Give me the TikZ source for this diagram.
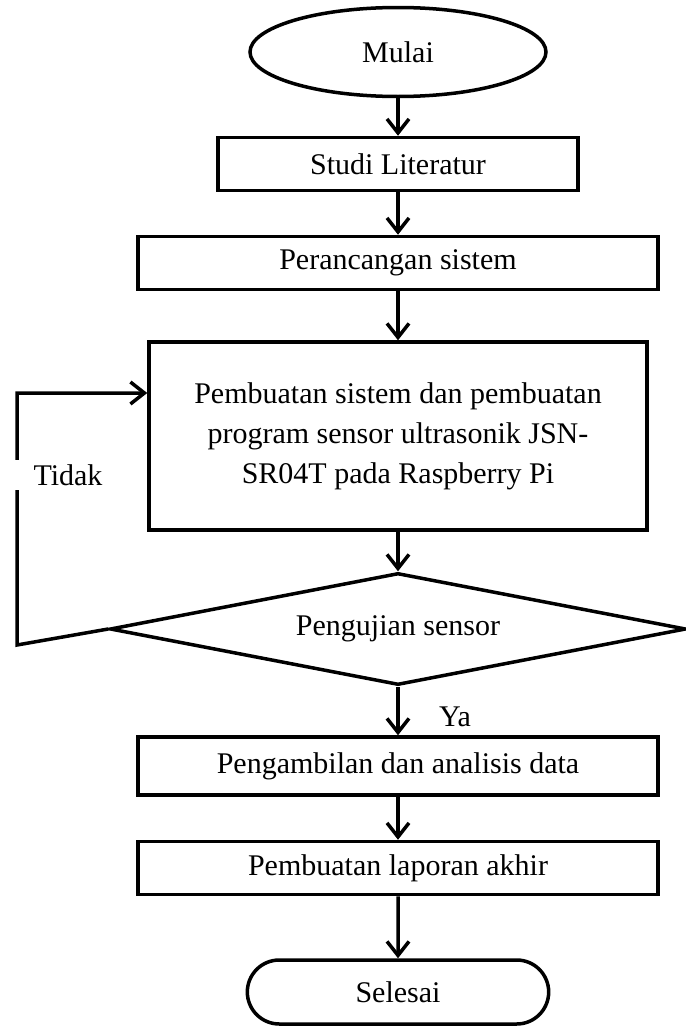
\documentclass[tikz,border=0pt]{standalone}
\usepackage{fontspec}
\setmainfont{Liberation Serif}
\usepackage{tikz}
\usetikzlibrary{arrows.meta,shapes.geometric,shapes.misc,positioning}

\begin{document}
\begin{tikzpicture}[>={Straight Barb[length=14bp,width=22bp]},line width=3.5bp,
	font=\fontsize{30bp}{40bp}\selectfont,
	proses/.style={draw,rectangle,minimum width=520bp,minimum height=53bp,inner sep=0pt},
	terminal/.style={draw,ellipse,minimum width=296bp,minimum height=89bp,inner sep=0pt},
	keputusan/.style={draw,diamond,aspect=5.2,minimum width=576bp,minimum height=112bp,inner sep=0pt}]
	\path[use as bounding box] (0bp,0bp) rectangle (686bp,-1030bp);

	\node (mulai) at (398bp,-52bp) [terminal] {Mulai};
	\node (studi) at (398bp,-164bp) [proses, minimum width=360bp] {Studi Literatur};
	\node (rancang) at (398bp,-263bp) [proses] {Perancangan sistem};
	\node (buat) at (398bp,-436bp) [proses, minimum width=498bp, minimum height=188bp, align=center]
		{Pembuatan sistem dan pembuatan\\program sensor ultrasonik JSN-\\SR04T pada Raspberry Pi};
	\node (uji) at (398bp,-629bp) [keputusan] {Pengujian sensor};
	\node (ambil) at (398bp,-766bp) [proses, minimum height=58bp] {Pengambilan dan analisis data};
	\node (lapor) at (398bp,-868bp) [proses] {Pembuatan laporan akhir};
	\node (selesai) at (398bp,-992bp) [draw, rounded rectangle, minimum width=308bp, minimum height=64bp] {Selesai};

	\coordinate (kiribawah) at (17bp,-645bp);
	\coordinate (kiriatas) at (17bp,-393bp);

	\draw [->] (mulai) to (studi);
	\draw [->] (studi) to (rancang);
	\draw [->] (rancang) to (buat);
	\draw [->] (buat) to (uji);
	\draw [->] (uji) to (ambil);
	\draw [->] (ambil) to (lapor);
	\draw [->] (lapor) to (selesai);

	\draw [->] (uji.west) -- (kiribawah) -- (kiriatas) -- (buat.west |- kiriatas);
	\node (tidak) at (68bp,-475bp) [fill=white, inner xsep=26bp, inner ysep=4bp] {Tidak};
	\node (ya) at (455bp,-717bp) {Ya};

\end{tikzpicture}
\end{document}
